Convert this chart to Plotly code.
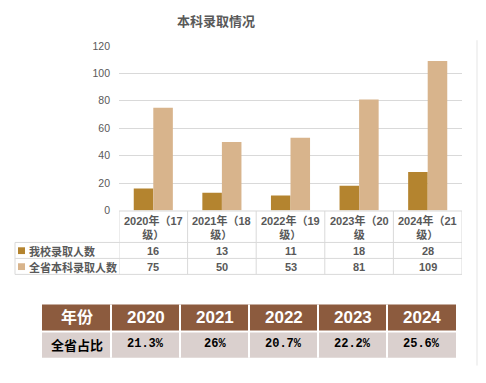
import plotly.graph_objects as go

# ---- data ----
categories = ["2020年（17级）", "2021年（18级）", "2022年（19级）", "2023年（20级", "2024年（21级）"]
school_admits = [16, 13, 11, 18, 28]
province_admits = [75, 50, 53, 81, 109]
series_names = ["我校录取人数", "全省本科录取人数"]
years = ["2020", "2021", "2022", "2023", "2024"]
ratio_labels = ["21.3%", "26%", "20.7%", "22.2%", "25.6%"]
ratio_row_title = "全省占比"
year_row_title = "年份"
title_text = "本科录取情况"

# ---- styles ----
OFF = 8                      # page body margin
W, H = 486 - OFF, 383 - OFF
C_DARK = "#B4842F"
C_LIGHT = "#D8B48C"
C_GRID = "#D9D9D9"
C_TEXT = "#595959"
C_HEAD = "#8C5B3E"
C_ROW = "#DAD0CE"
FONT = "Liberation Sans, Arial, Noto Sans CJK SC, sans-serif"
FONT_CJK = "Noto Sans CJK SC, Liberation Sans, sans-serif"


def px(x):
    return (x - OFF) / W


def py(y):
    return 1 - (y - OFF) / H


fig = go.Figure()
fig.add_trace(go.Bar(x=categories, y=school_admits, name=series_names[0],
                     marker=dict(color=C_DARK, line=dict(width=0))))
fig.add_trace(go.Bar(x=categories, y=province_admits, name=series_names[1],
                     marker=dict(color=C_LIGHT, line=dict(width=0))))

shapes = []
annotations = []

# title
annotations.append(dict(text="<b>" + title_text + "</b>", x=px(216), y=py(15), xref="paper", yref="paper",
                        showarrow=False, font=dict(size=13, color=C_TEXT, family=FONT_CJK),
                        xanchor="center", yanchor="middle"))

# ---- data table under the chart ----
line = dict(color=C_GRID, width=1)
top, r1, r2, bot = 211.5, 244, 260.5, 277
left = 15
shapes.append(dict(type="line", xref="paper", yref="paper", x0=px(119), x1=px(462), y0=py(top), y1=py(top), line=line))
for yy in (r1, r2, bot):
    shapes.append(dict(type="line", xref="paper", yref="paper", x0=px(left), x1=px(462), y0=py(yy), y1=py(yy), line=line))
shapes.append(dict(type="line", xref="paper", yref="paper", x0=px(left), x1=px(left), y0=py(r1), y1=py(bot), line=line))
for i in range(len(categories) + 1):
    shapes.append(dict(type="line", xref="x", yref="paper", x0=i - 0.5, x1=i - 0.5, y0=py(top), y1=py(bot), line=line))

for c in categories:
    k = c.index("级")
    annotations.append(dict(text="<b>" + c[:k] + "<br>" + c[k:] + "</b>", x=c, y=py(228.5), xref="x", yref="paper",
                            showarrow=False, font=dict(size=11, color=C_TEXT, family=FONT),
                            xanchor="center", yanchor="middle", align="center"))

rows = [(series_names[0], school_admits, C_DARK, 252.5), (series_names[1], province_admits, C_LIGHT, 269)]
for name, vals, col, yc in rows:
    shapes.append(dict(type="rect", xref="paper", yref="paper", x0=px(18), x1=px(25), y0=py(yc - 3.5), y1=py(yc + 3.5),
                       fillcolor=col, line=dict(width=0)))
    annotations.append(dict(text="<b>" + name + "</b>", x=px(27), y=py(yc), xref="paper", yref="paper",
                            showarrow=False, font=dict(size=11, color=C_TEXT, family=FONT_CJK),
                            xanchor="left", yanchor="middle"))
    for c, v in zip(categories, vals):
        annotations.append(dict(text="<b>" + str(v) + "</b>", x=c, y=py(yc), xref="x", yref="paper",
                                showarrow=False, font=dict(size=11, color=C_TEXT, family=FONT),
                                xanchor="center", yanchor="middle"))

# ---- lower ratio table ----
tx0, cw = 42, 69
h0, h1, b0, b1 = 308, 335, 337, 363
n = len(years) + 1
shapes.append(dict(type="rect", xref="paper", yref="paper", x0=px(tx0), x1=px(tx0 + cw * n), y0=py(h1), y1=py(h0),
                   fillcolor=C_HEAD, line=dict(width=0)))
shapes.append(dict(type="rect", xref="paper", yref="paper", x0=px(tx0), x1=px(tx0 + cw * n), y0=py(b1), y1=py(b0),
                   fillcolor=C_ROW, line=dict(width=0)))
for j in range(1, n):
    xx = tx0 + cw * j
    shapes.append(dict(type="line", xref="paper", yref="paper", x0=px(xx), x1=px(xx), y0=py(b1), y1=py(h0),
                       line=dict(color="white", width=2)))
head_cells = [year_row_title] + years
body_cells = [ratio_row_title] + ratio_labels
for j in range(n):
    xc = tx0 + cw * j + cw / 2
    annotations.append(dict(text="<b>" + head_cells[j] + "</b>", x=px(xc), y=py((h0 + h1) / 2), xref="paper", yref="paper",
                            showarrow=False, font=dict(size=17 if j else 16, color="white", family=FONT),
                            xanchor="center", yanchor="middle"))
    annotations.append(dict(text="<b>" + body_cells[j] + "</b>", x=px(xc), y=py((b0 + b1) / 2 - 1), xref="paper", yref="paper",
                            showarrow=False, font=dict(size=13 if j == 0 else 12, color="black",
                                                       family=FONT_CJK if j == 0 else "Liberation Mono, monospace"),
                            xanchor="center", yanchor="middle"))

# right-side light strip
shapes.append(dict(type="rect", xref="paper", yref="paper", x0=px(476), x1=px(479), y0=py(371), y1=py(35),
                   fillcolor="#F2F2F2", line=dict(width=0)))

fig.update_layout(
    width=W, height=H,
    margin=dict(l=0, r=0, t=0, b=0),
    paper_bgcolor="white", plot_bgcolor="white",
    barmode="group", bargap=0.43, bargroupgap=0,
    showlegend=False,
    font=dict(family=FONT, color=C_TEXT),
    xaxis=dict(domain=[px(119), px(462)], showticklabels=False, showgrid=False, zeroline=False,
               showline=False, ticks="", range=[-0.5, 4.5]),
    yaxis=dict(domain=[py(211), py(41)], range=[0, 120], dtick=20, showgrid=True, gridcolor=C_GRID,
               gridwidth=1, zeroline=False, showline=False, ticks="", tickfont=dict(size=10.5, color=C_TEXT),
               ticklabelstandoff=8),
    shapes=shapes, annotations=annotations,
)

fig.write_html("out.html")
